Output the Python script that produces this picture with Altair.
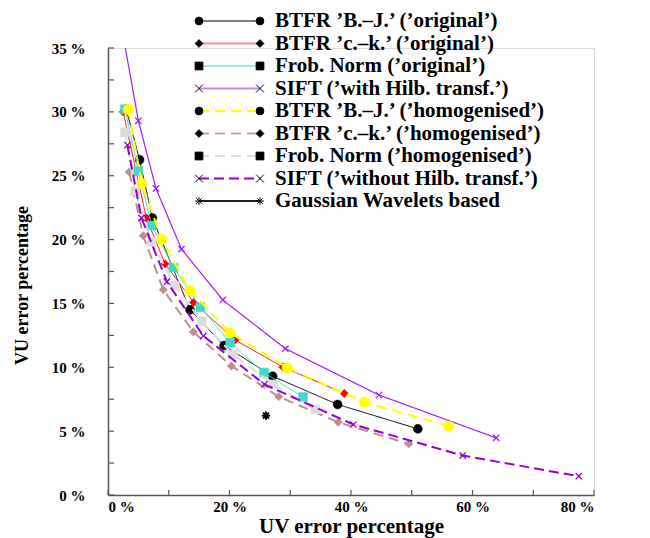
import altair as alt
import pandas as pd

# ---------------- data ----------------
bj_orig_x = [3.0, 5.2, 7.3, 13.5, 19.1, 27.1, 37.8, 51.0]
bj_orig_y = [30.2, 26.25, 21.7, 14.5, 11.7, 9.3, 7.09, 5.18]

ck_orig_x = [2.5, 6.3, 9.4, 14.1, 20.9, 28.8, 38.9]
ck_orig_y = [30.0, 21.7, 18.1, 15.07, 12.14, 10.02, 7.95]

fr_orig_x = [2.8, 5.0, 7.2, 10.8, 15.2, 20.1, 25.7, 32.1]
fr_orig_y = [30.2, 25.35, 21.1, 17.8, 14.7, 11.93, 9.58, 7.67]

sift_h_x = [2.3, 5.0, 7.9, 12.1, 18.9, 29.2, 44.6, 63.9]
sift_h_y = [36.5, 29.3, 24.0, 19.25, 15.27, 11.46, 7.83, 4.47]

bj_hom_x = [3.35, 5.55, 8.85, 13.5, 20.1, 29.5, 42.2, 56.1]
bj_hom_y = [30.2, 24.4, 20.0, 16.0, 12.7, 9.97, 7.27, 5.39]

ck_hom_x = [3.5, 5.8, 9.1, 14.05, 20.3, 28.1, 37.9, 49.5]
ck_hom_y = [25.3, 20.3, 16.07, 12.77, 10.1, 7.7, 5.7, 4.0]

fr_hom_x = [2.8, 4.45, 7.2, 11.0, 15.4, 20.6, 27.2, 34.1]
fr_hom_y = [28.4, 23.76, 19.8, 16.4, 13.6, 11.0, 8.66, 6.7]

sift_n_x = [3.2, 5.5, 9.7, 15.7, 25.75, 40.4, 58.4, 77.5]
sift_n_y = [27.4, 21.7, 16.7, 12.45, 8.66, 5.52, 3.09, 1.47]

gauss_x = [26.0]
gauss_y = [6.22]

labels = [
    "BTFR \u2019B.\u2013J.\u2019 (\u2019original\u2019)",
    "BTFR \u2019c.\u2013k.\u2019 (\u2019original\u2019)",
    "Frob. Norm (\u2019original\u2019)",
    "SIFT (\u2019with Hilb. transf.\u2019)",
    "BTFR \u2019B.\u2013J.\u2019 (\u2019homogenised\u2019)",
    "BTFR \u2019c.\u2013k.\u2019 (\u2019homogenised\u2019)",
    "Frob. Norm (\u2019homogenised\u2019)",
    "SIFT (\u2019without Hilb. transf.\u2019)",
    "Gaussian Wavelets based",
]

y_tick_values = [0, 2.5, 5, 7.5, 10, 12.5, 15, 17.5, 20, 22.5, 25, 27.5, 30, 32.5, 35]
x_tick_values = [0, 10, 20, 30, 40, 50, 60, 70, 80]
y_label_values = [0, 5, 10, 15, 20, 25, 30, 35]
x_label_values = [0, 20, 40, 60, 80]

# ---------------- styles ----------------
XMARK = "M-1,-1L1,1M-1,1L1,-1"
STAR = "M-1,0L1,0M0,-1L0,1M-0.7,-0.7L0.7,0.7M-0.7,0.7L0.7,-0.7"

series = [
    # xs, ys, color, dash, width, shape, marker size, filled
    (bj_orig_x, bj_orig_y, "#000000", [1, 0], 1, "circle", 80, True),
    (ck_orig_x, ck_orig_y, "#ff0000", [1, 0], 1, "diamond", 70, True),
    (fr_orig_x, fr_orig_y, "#40d8cc", [1, 0], 1, "square", 80, True),
    (sift_h_x, sift_h_y, "#a020f0", [1, 0], 1.2, XMARK, 40, False),
    (bj_hom_x, bj_hom_y, "#ffff00", [10, 6], 2, "circle", 110, True),
    (ck_hom_x, ck_hom_y, "#bc8f8f", [10, 6], 2, "diamond", 70, True),
    (fr_hom_x, fr_hom_y, "#dcdcdc", [10, 6], 2, "square", 80, True),
    (sift_n_x, sift_n_y, "#9400d3", [10, 5], 2, XMARK, 40, False),
    (gauss_x, gauss_y, "#000000", [1, 0], 1, STAR, 70, False),
]
legend_line_colors = ["#808080", "#ff9090", "#a8e8e4", "#c888f0",
                      "#ffff00", "#c8a0a0", "#e0e0e0", "#9400d3", "#202020"]

xscale = alt.Scale(domain=[0, 80], nice=False, zero=True)
yscale = alt.Scale(domain=[0, 35], nice=False, zero=True)

SERIF = "Liberation Serif"

xaxis = alt.Axis(
    values=x_label_values, labelExpr="datum.value + ' %'", ticks=False, grid=False,
    domainColor="#555555", domainWidth=1.5, labelFont=SERIF, labelFontWeight="bold",
    labelFontSize=15, labelPadding=4, labelColor="black",
    title="UV error percentage", titleFont=SERIF, titleFontWeight="bold",
    titleFontSize=21, titleColor="black", titleY=31, titleBaseline="middle",
)
yaxis = alt.Axis(
    values=y_label_values, labelExpr="datum.value + ' %'", ticks=False, grid=False,
    domainColor="#555555", domainWidth=1.5, labelFont=SERIF, labelFontWeight="bold",
    labelFontSize=15, labelPadding=23, labelColor="black",
    title="VU error percentage", titleFont=SERIF, titleFontWeight="bold",
    titleFontSize=18, titleColor="black", titleAngle=270, titleX=-86, titleY=237,
    titleAlign="center", titleBaseline="middle",
)

xenc_q = lambda f: alt.X(f, scale=xscale, axis=xaxis)
yenc_q = lambda f: alt.Y(f, scale=yscale, axis=yaxis)

layers = []
for i, (xs, ys, color, dash, width, shape, size, filled) in enumerate(series):
    df = pd.DataFrame({"x": xs, "y": ys})
    xenc = xenc_q("x:Q")
    yenc = yenc_q("y:Q")
    if len(xs) > 1:
        layers.append(
            alt.Chart(df).mark_line(color=color, strokeDash=dash, strokeWidth=width, clip=True)
            .encode(x=xenc, y=yenc)
        )
    if filled:
        pt = alt.Chart(df).mark_point(shape=shape, size=size, filled=True, fill=color,
                                      stroke=color, strokeWidth=0.5, opacity=1, clip=True)
    else:
        pt = alt.Chart(df).mark_point(shape=shape, size=size, filled=False, stroke=color,
                                      strokeWidth=1.3 if i != 8 else 1.8, opacity=1, clip=True)
    layers.append(pt.encode(x=xenc, y=yenc))

# inward axis ticks
ytk = pd.DataFrame({"y": y_tick_values})
layers.append(alt.Chart(ytk).mark_rule(color="#555555", strokeWidth=1.2).encode(
    y=yenc_q("y:Q"), x=alt.value(0), x2=alt.value(6)))
xtk = pd.DataFrame({"x": x_tick_values})
layers.append(alt.Chart(xtk).mark_rule(color="#555555", strokeWidth=1.2).encode(
    x=xenc_q("x:Q"), y=alt.value(447), y2=alt.value(442)))

plot = alt.layer(*layers)

# ---------------- manual legend ----------------
leg = pd.DataFrame({
    "label": labels,
    "row": list(range(len(labels))),
})
dashes = [s[3] for s in series]
shapes = ["circle", "diamond", "square", XMARK, "circle", "diamond", "square", XMARK, STAR]
lsizes = [60, 60, 60, 40, 60, 60, 60, 40, 50]
rowscale = alt.Scale(domain=[0, 8], range=[-27, 153])
yrow = alt.Y("row:Q", scale=rowscale, axis=None)

leg_line = alt.Chart(leg).mark_rule(strokeWidth=2).encode(
    y=yrow, x=alt.value(91), x2=alt.value(152),
    color=alt.Color("label:N", scale=alt.Scale(domain=labels, range=legend_line_colors), legend=None),
    strokeDash=alt.StrokeDash("label:N", scale=alt.Scale(domain=labels, range=dashes), legend=None),
)
leg_layers = [leg_line]
for xpos in (91, 152):
    leg_layers.append(
        alt.Chart(leg).mark_point(filled=True, fill="black", stroke="black", strokeWidth=1, opacity=1).encode(
            y=yrow, x=alt.value(xpos),
            shape=alt.Shape("label:N", scale=alt.Scale(domain=labels, range=shapes), legend=None),
            size=alt.Size("label:N", scale=alt.Scale(domain=labels, range=lsizes), legend=None),
        )
    )
leg_layers.append(
    alt.Chart(leg).mark_text(align="left", baseline="middle", font=SERIF, fontWeight="bold",
                             fontSize=21, color="black").encode(
        y=yrow, x=alt.value(167), text="label:N")
)
legend = alt.layer(*leg_layers)

chart = alt.layer(plot, legend).resolve_scale(y="independent").properties(
    width=486, height=447,
    autosize=alt.AutoSizeParams(type="none"),
    padding={"left": 100, "top": 40, "right": 48, "bottom": 43},
).configure_view(stroke=None).configure(background="white")

chart.save("out.html", embed_options={"renderer": "svg", "actions": False})
